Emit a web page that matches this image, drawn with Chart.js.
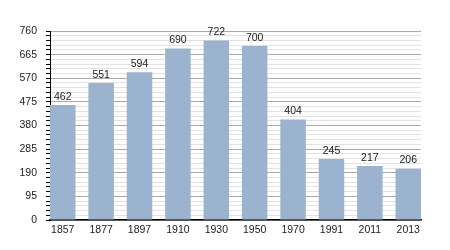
<!DOCTYPE html>
<html>
<head>
<meta charset="utf-8">
<script src="https://cdn.jsdelivr.net/npm/chart.js@4"></script>
<style>
  html, body { margin: 0; padding: 0; background: #fff; }
  #wrap { width: 450px; height: 250px; }
</style>
</head>
<body>
<div id="wrap"><canvas id="grafico"></canvas></div>
<script>
// Dados do gráfico
const anos = ['1857', '1877', '1897', '1910', '1930', '1950', '1970', '1991', '2011', '2013'];
const populacao = [462, 551, 594, 690, 722, 700, 404, 245, 217, 206];
const yMax = 760;
const passoMaior = 95;
const passoMenor = 19;

// Escreve o valor acima de cada barra
const rotulosBarras = {
  id: 'rotulosBarras',
  afterDatasetsDraw(chart) {
    const ctx = chart.ctx;
    const meta = chart.getDatasetMeta(0);
    ctx.save();
    ctx.font = '10.5px "Liberation Sans", Arial, sans-serif';
    ctx.fillStyle = '#222';
    ctx.textAlign = 'center';
    ctx.textBaseline = 'bottom';
    meta.data.forEach((barra, i) => {
      ctx.fillText(populacao[i], barra.x, barra.y - 3);
    });
    ctx.restore();
  }
};

new Chart(document.getElementById('grafico'), {
  type: 'bar',
  data: {
    datasets: [{
      data: populacao.map((v, i) => ({ x: i, y: v })),
      backgroundColor: '#9bb3cf',
      borderWidth: 0,
      categoryPercentage: 1,
      barPercentage: 0.664
    }]
  },
  options: {
    responsive: true,
    maintainAspectRatio: false,
    animation: false,
    events: [],
    plugins: {
      legend: { display: false },
      tooltip: { enabled: false }
    },
    layout: {
      padding: { top: 31, right: 29, left: 0, bottom: 0 }
    },
    scales: {
      x: {
        type: 'linear',
        offset: false,
        min: -0.332,
        max: 9.332,
        afterFit: s => { s.height = 30; },
        grid: { display: true, color: 'rgba(0,0,0,0)', drawTicks: false },
        border: { display: true, color: '#000', width: 1.5 },
        ticks: {
          stepSize: 1,
          includeBounds: false,
          autoSkip: false,
          maxRotation: 0,
          padding: 4,
          color: '#222',
          font: { family: '"Liberation Sans", Arial, sans-serif', size: 10.5 },
          callback: v => Number.isInteger(v) ? anos[v] : ''
        }
      },
      y: {
        min: 0,
        max: yMax,
        afterFit: s => { s.width = 50; },
        grid: {
          color: c => c.tick && c.tick.value % passoMaior === 0 ? '#a8a8a8' : '#e2e2e2',
          tickColor: '#000',
          tickLength: 4
        },
        border: { display: true, color: '#000', width: 1 },
        ticks: {
          stepSize: passoMenor,
          autoSkip: false,
          padding: 9,
          color: '#222',
          font: { family: '"Liberation Sans", Arial, sans-serif', size: 10.5 },
          callback: v => v % passoMaior === 0 ? v : ''
        }
      }
    }
  },
  plugins: [rotulosBarras]
});
</script>
</body>
</html>
